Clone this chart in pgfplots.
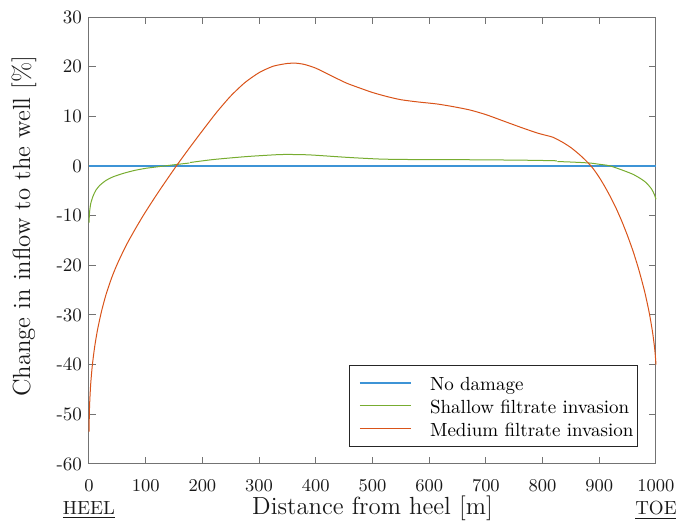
\documentclass[border=0pt]{standalone}
\usepackage{pgfplots}
\pgfplotsset{compat=1.18}
\definecolor{mblue}{rgb}{0.24,0.58,0.84}
\definecolor{morange}{rgb}{0.85,0.325,0.098}
\definecolor{mgreen}{rgb}{0.466,0.674,0.188}
\begin{document}
\begin{tikzpicture}
\begin{axis}[
  at={(0pt,0pt)}, anchor=south west,
  scale only axis, width=283.5pt, height=223.5pt,
  xmin=0, xmax=1000, ymin=-60, ymax=30,
  xtick={0,100,...,1000}, ytick={-60,-50,...,30},
  yticklabels={-60,-50,-40,-30,-20,-10,0,10,20,30},
  /pgf/number format/1000 sep={},
  tick align=inside, tick pos=both, major tick length=3.5pt,
  axis line style={black!55, line width=0.5pt},
  every tick/.style={black!55, line width=0.5pt},
  tick label style={font=\fontsize{9.5}{11}\selectfont, text=black!90},
  xticklabel style={yshift=-4.3pt},
  xlabel={Distance from heel [m]},
  ylabel={Change in inflow to the well [\%]},
  label style={font=\fontsize{12.4}{15}\selectfont, text=black!90},
  xlabel style={at={(axis description cs:0.5,-0.1141)}, anchor=base},
  ylabel style={at={(axis description cs:-0.1147,0.532)}, anchor=center},
  clip=false,
  legend cell align=left,
  legend image code/.code={\path (1.5pt,0pt); \draw[#1] (5.5pt,0pt) -- (31pt,0pt);},
  legend style={at={(rel axis cs:1,0)}, anchor=south east, xshift=-9pt, yshift=8.5pt,
    draw=black!85, line width=0.5pt, font=\fontsize{9.5}{11}\selectfont,
    inner xsep=1pt, inner ysep=3pt,
    nodes={inner sep=1pt, text height=8.5pt, text depth=1pt},
    /tikz/every odd column/.append style={column sep=8.3pt}},
]
\addplot[mblue, line width=0.55pt] coordinates {(0,0) (1000,0)};
\addlegendentry{No damage}
\addplot[mgreen, line width=0.5pt, smooth, tension=0.4] coordinates {
(0,-11.4) (1,-9.3) (3,-7.6) (7,-6.1) (12,-4.9) (19,-3.9) (30,-2.9) (42,-2.2)
(60,-1.5) (80,-0.9) (101,-0.45) (125,-0.1) (154,0.3) (177,0.6)};
\addlegendentry{Shallow filtrate invasion}
\addplot[mgreen, line width=0.5pt, smooth, tension=0.4, forget plot] coordinates {
(178,0.7)
(219,1.3) (278,1.9) (336,2.3) (370,2.3) (395,2.2) (454,1.75) (513,1.4)
(572,1.3) (689,1.25) (780,1.15) (825,1.05)};
\addplot[mgreen, line width=0.5pt, smooth, tension=0.4, forget plot] coordinates {
(826,0.9) (850,0.8) (883,0.6)
(900,0.35) (918,0.05) (940,-0.8) (960,-1.7) (975,-2.7) (983,-3.4) (992,-4.6) (997,-5.7) (1000,-6.7)};
\addplot[morange, line width=0.5pt, smooth, tension=0.4] coordinates {
(0,-53.5) (1,-48.3) (3,-43.9) (6,-40.0) (10,-36.4) (15,-33.0) (22,-29.3)
(30,-25.9) (40,-22.5) (50,-19.7) (65,-16.1) (80,-13.0) (95,-10.1)
(110,-7.4) (125,-4.8) (140,-2.3) (154,0)
(175,3.3) (200,7.1) (225,10.8) (250,14.1) (275,16.8) (300,18.8) (325,20.1)
(350,20.65) (365,20.7) (380,20.45) (400,19.7) (425,18.3) (454,16.7) (480,15.6)
(500,14.8) (525,14.0) (550,13.35) (580,12.9) (613,12.5) (640,12.0) (671,11.3)
(700,10.35) (730,9.1) (760,7.85) (789,6.7) (805,6.2) (818,5.8)
(835,4.8) (850,3.7) (865,2.3) (878,0.9) (889,-0.5) (900,-2.3) (910,-4.2)
(920,-6.3) (930,-8.6) (940,-11.2) (950,-14.1) (960,-17.3) (970,-21.0)
(980,-25.3) (988,-29.5) (994,-33.5) (998,-37.1) (1000,-40)};
\addlegendentry{Medium filtrate invasion}
\node[anchor=base, font=\fontsize{9.5}{11}\selectfont, text=black!90] at (rel axis cs:0,0) [yshift=-25.5pt] {\underline{HEEL}};
\node[anchor=base, font=\fontsize{9.5}{11}\selectfont, text=black!90] at (rel axis cs:1,0) [yshift=-25.5pt] {\underline{TOE}};
\end{axis}
\pgfresetboundingbox
\path[use as bounding box] (-44.5pt,-32.5pt) rectangle (293.5pt,232pt);
\end{tikzpicture}
\end{document}
